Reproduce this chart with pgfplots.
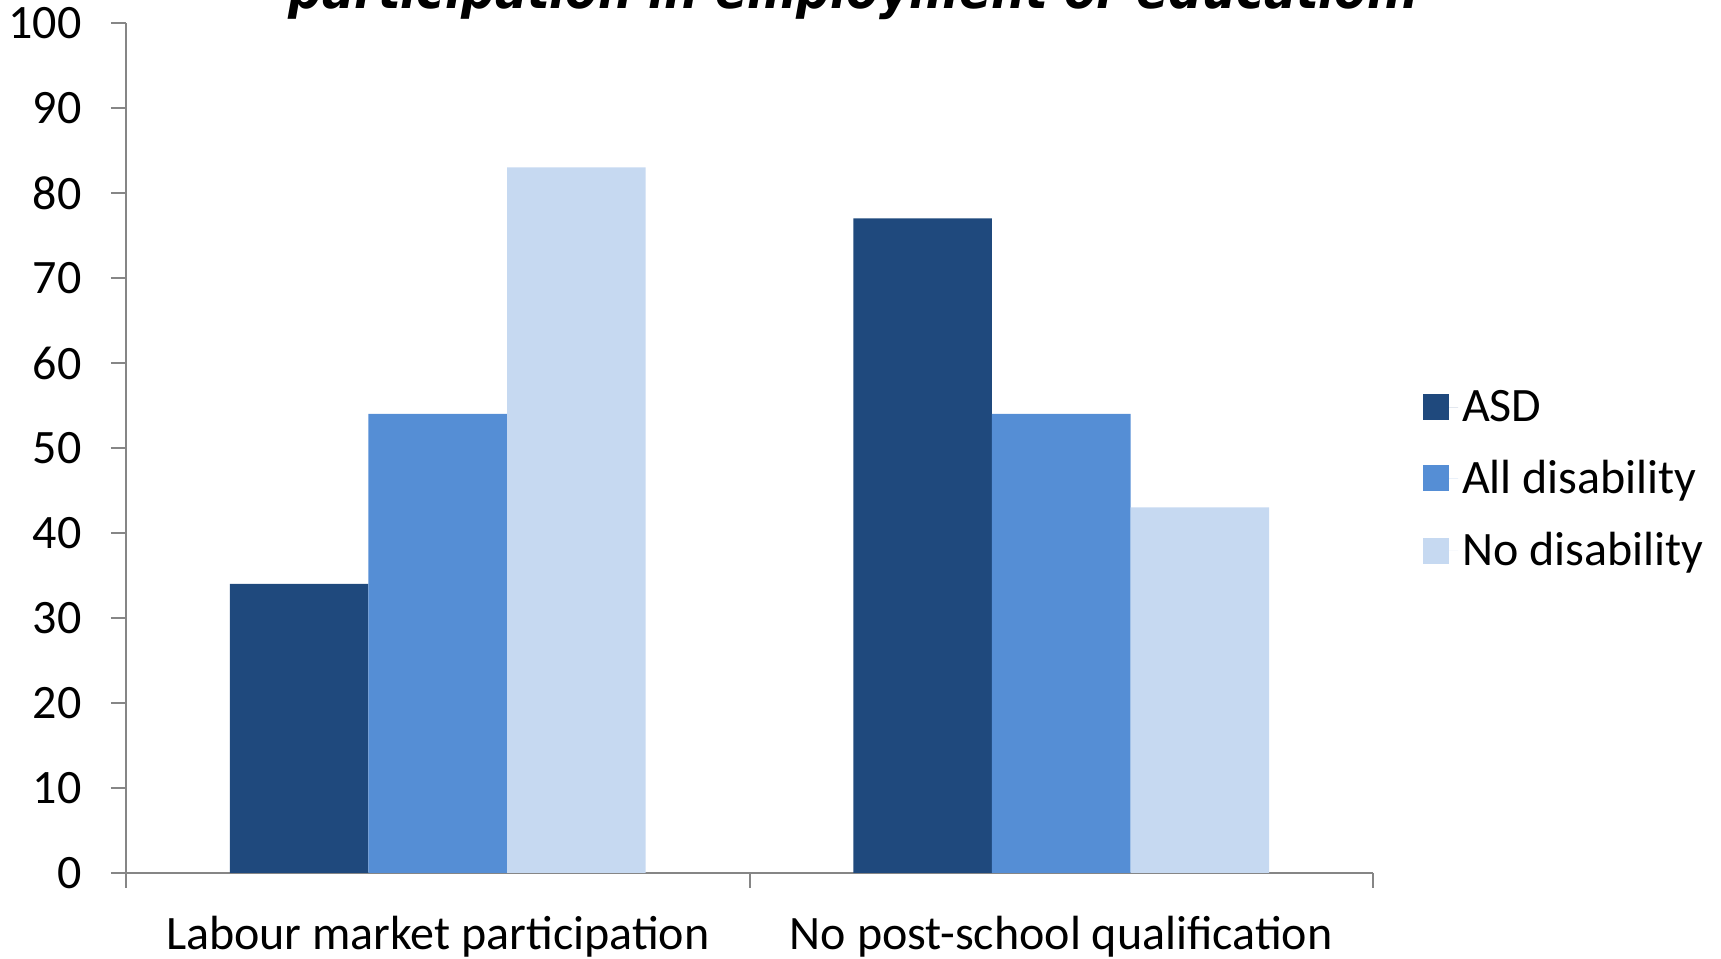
\documentclass[border=0pt]{standalone}
\usepackage{pgfplots}
\pgfplotsset{compat=1.18}
\usepackage{fontspec}
\setmainfont{Carlito}
\newfontfamily\titlefont{DejaVu Sans}
\definecolor{asd}{RGB}{31,73,125}
\definecolor{alld}{RGB}{85,142,213}
\definecolor{nod}{RGB}{198,217,241}
\definecolor{axgray}{RGB}{134,134,134}
\begin{document}
\begin{tikzpicture}
\path[use as bounding box] (-63pt,-43pt) rectangle (797.5pt,436.5pt);
\begin{axis}[
  at={(0pt,0pt)}, anchor=south west,
  scale only axis, width=623.5pt, height=425pt,
  ybar=0pt, bar width=0.2222,
  xmin=-0.5, xmax=1.5, ymin=0, ymax=100,
  ytick={0,10,...,100},
  xtick={0,1},
  xticklabels={Labour market participation, No post-school qualification},
  extra x ticks={-0.5,0.5,1.5},
  extra x tick labels={},
  axis lines*=left,
  axis line style={axgray, line width=1pt},
  tick style={axgray, line width=1pt},
  tick align=outside,
  major tick length=7.5pt,
  xtick style={draw=none},
  extra x tick style={xtick style={draw=axgray}},
  /pgf/number format/assume math mode=true,
  tick label style={font=\fontsize{24}{29}\selectfont},
  yticklabel style={xshift=-11.2pt},
  xticklabel style={yshift=-10.5pt},
  legend style={draw=none, fill=none, at={(1.035,0.463)}, anchor=west,
    font=\fontsize{24}{29}\selectfont, row sep=14pt},
  legend cell align=left,
  legend image code/.code={\fill[#1] (0pt,-6.5pt) rectangle (13pt,6.5pt); \path (0pt,0pt) -- (17.5pt,0pt);},
]
\addplot[fill=asd, draw=none] coordinates {(0,34) (1,77)};
\addplot[fill=alld, draw=none] coordinates {(0,54) (1,54)};
\addplot[fill=nod, draw=none] coordinates {(0,83) (1,43)};
\legend{ASD, All disability, No disability}
\end{axis}
\node[anchor=base, inner sep=0pt] at (364pt,432pt) {\resizebox{565pt}{\height}{\titlefont\fontsize{26}{31}\selectfont\bfseries\itshape participation in employment or education.}};
\end{tikzpicture}
\end{document}
